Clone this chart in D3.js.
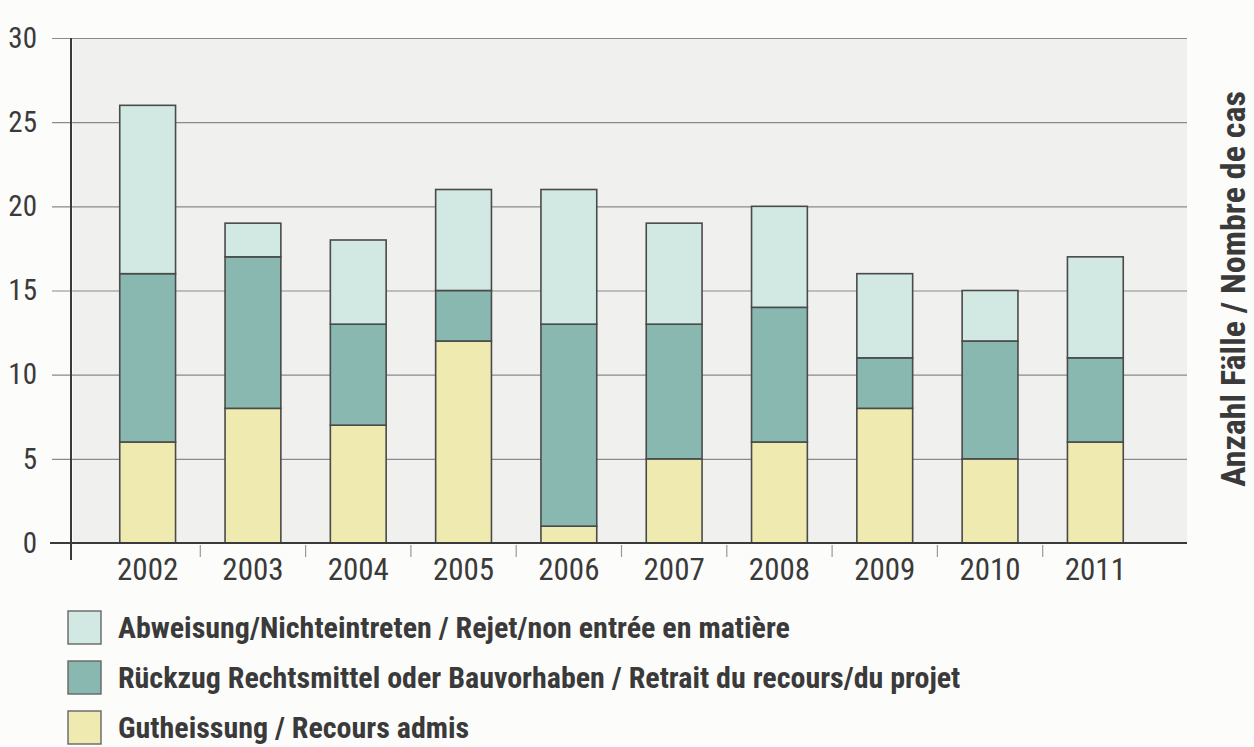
<!DOCTYPE html>
<html>
<head>
<meta charset="utf-8">
<script src="https://cdn.jsdelivr.net/npm/d3@7"></script>
<style>
  body { margin: 0; background: #fcfcfb; }
  text { fill: #3a3a3a; }
  .num { font-family: "Liberation Sans Narrow", "Roboto Condensed", "Arial Narrow", "Liberation Sans", sans-serif; }
  .bold { font-family: "Liberation Sans Narrow", "Roboto Condensed", "Arial Narrow", "Liberation Sans", sans-serif; font-weight: bold; }
</style>
</head>
<body>
<svg id="chart" width="1254" height="747"></svg>
<script>
// Data
const years = ['2002','2003','2004','2005','2006','2007','2008','2009','2010','2011'];
const gutheissung = [6, 8, 7, 12, 1, 5, 6, 8, 5, 6];
const rueckzug    = [10, 9, 6, 3, 12, 8, 8, 3, 7, 5];
const abweisung   = [10, 2, 5, 6, 8, 6, 6, 5, 3, 6];
const y_ticks = [0, 5, 10, 15, 20, 25, 30];

const series_keys = ['gut', 'rue', 'abw'];
const series_labels = {
    abw: 'Abweisung/Nichteintreten / Rejet/non entrée en matière',
    rue: 'Rückzug Rechtsmittel oder Bauvorhaben / Retrait du recours/du projet',
    gut: 'Gutheissung / Recours admis'
};
const colors = { gut: '#eeeab0', rue: '#88b8b0', abw: '#d2e8e2' };

const table = years.map((y, i) => ({ year: y, gut: gutheissung[i], rue: rueckzug[i], abw: abweisung[i] }));

const svg = d3.select('#chart');

const plot = { left: 73, right: 1187, top: 38, bottom: 543 };

const x_scale = d3.scaleBand().domain(years).range([95, 1148]).paddingInner(0.47).paddingOuter(0.235);
const y_scale = d3.scaleLinear().domain([0, 30]).range([plot.bottom, plot.top]);

// grey plot background
svg.append('rect')
    .attr('x', plot.left).attr('y', plot.top)
    .attr('width', plot.right - plot.left).attr('height', plot.bottom - plot.top)
    .style('fill', '#f0f0ee');

// gridlines + y labels
const y_axis = d3.axisLeft(y_scale)
    .tickValues(y_ticks)
    .tickSizeInner(-(plot.right - 52))
    .tickSizeOuter(0)
    .tickPadding(14);
const y_axis_draw = svg.append('g')
    .attr('transform', `translate(52, 0)`)
    .call(y_axis);
y_axis_draw.select('.domain').remove();
y_axis_draw.selectAll('line').style('stroke', '#8a8a8a').style('stroke-width', 1.2);
y_axis_draw.selectAll('text')
    .attr('class', 'num')
    .attr('x', -15)
    .style('font-size', '29px')
    .style('fill', '#3a3a3a');

// stacked bars
const stack = d3.stack().keys(series_keys)(table);
svg.append('g').selectAll('g')
    .data(stack)
    .join('g')
    .style('fill', d => colors[d.key])
    .selectAll('rect')
    .data(d => d)
    .join('rect')
    .attr('x', d => x_scale(d.data.year))
    .attr('y', d => y_scale(d[1]))
    .attr('width', x_scale.bandwidth())
    .attr('height', d => y_scale(d[0]) - y_scale(d[1]))
    .style('stroke', '#4a4a4a')
    .style('stroke-width', 1.6);

// y axis line
svg.append('line')
    .attr('x1', 71).attr('x2', 71)
    .attr('y1', plot.top).attr('y2', 560)
    .style('stroke', '#3a3a3a').style('stroke-width', 2);

// x axis
const x_axis = d3.axisBottom(x_scale).tickSize(0).tickPadding(15);
const x_axis_draw = svg.append('g')
    .attr('transform', `translate(0, ${plot.bottom})`)
    .call(x_axis);
x_axis_draw.select('.domain').remove();
x_axis_draw.selectAll('text')
    .attr('class', 'num')
    .style('font-size', '31px')
    .style('fill', '#3a3a3a');
svg.append('line')
    .attr('x1', 50).attr('x2', plot.right)
    .attr('y1', plot.bottom).attr('y2', plot.bottom)
    .style('stroke', '#3a3a3a').style('stroke-width', 2.2);

// separators between categories
const step = x_scale.step();
svg.append('g').selectAll('line')
    .data(years.slice(1))
    .join('line')
    .attr('x1', d => x_scale(d) - (step - x_scale.bandwidth()) / 2)
    .attr('x2', d => x_scale(d) - (step - x_scale.bandwidth()) / 2)
    .attr('y1', plot.bottom + 2).attr('y2', plot.bottom + 14)
    .style('stroke', '#999').style('stroke-width', 1.2);

// legend
const legend_order = ['abw', 'rue', 'gut'];
const legend = svg.append('g').selectAll('g')
    .data(legend_order)
    .join('g')
    .attr('transform', (d, i) => `translate(68, ${611 + i * 50})`);
legend.append('rect')
    .attr('width', 33).attr('height', 33)
    .style('fill', d => colors[d])
    .style('stroke', '#666').style('stroke-width', 1.4);
legend.append('text')
    .attr('class', 'bold')
    .attr('x', 50).attr('y', 27)
    .style('font-size', '30px')
    .text(d => series_labels[d]);

// right axis title
svg.append('text')
    .attr('class', 'bold')
    .attr('transform', 'translate(1245, 289) rotate(-90)')
    .attr('text-anchor', 'middle')
    .style('font-size', '34px')
    .text('Anzahl Fälle / Nombre de cas');
</script>
</body>
</html>
